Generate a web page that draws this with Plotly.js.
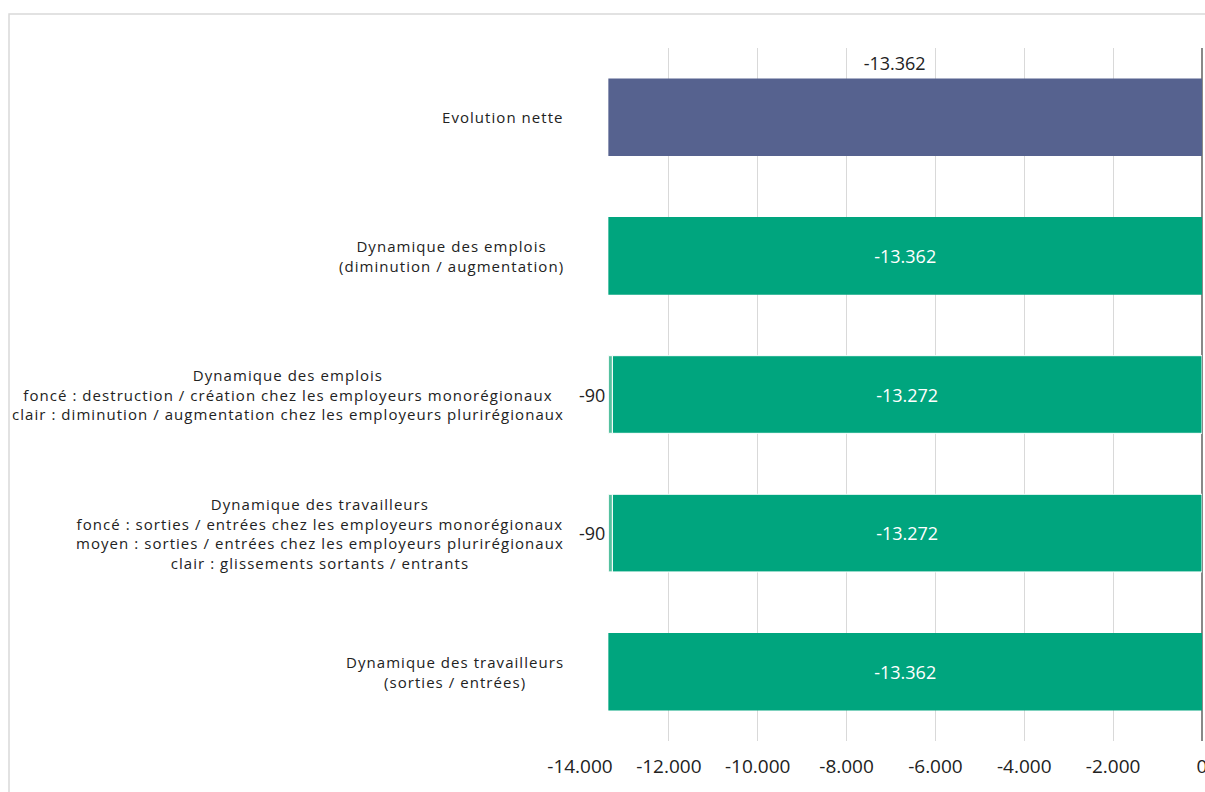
<!DOCTYPE html>
<html>
<head>
<meta charset="utf-8">
<script src="https://cdn.plot.ly/plotly-3.0.1.min.js"></script>
<style>
html,body{margin:0;padding:0;background:#fff;}
#chart{width:1205px;height:792px;}
.annotation-text{letter-spacing:1.05px;}
#chart g.annotation[data-index="5"] .annotation-text{letter-spacing:0;}
</style>
</head>
<body>
<div id="chart"></div>
<script>
const categories = [
  "Evolution nette",
  "Dynamique des emplois<br>(diminution / augmentation)",
  "Dynamique des emplois<br>foncé : destruction / création chez les employeurs monorégionaux<br>clair : diminution / augmentation chez les employeurs plurirégionaux",
  "Dynamique des travailleurs<br>foncé : sorties / entrées chez les employeurs monorégionaux<br>moyen : sorties / entrées chez les employeurs plurirégionaux<br>clair : glissements sortants / entrants",
  "Dynamique des travailleurs<br>(sorties / entrées)"
];
const netValues = [-13362, null, null, null, null];
const totalValues = [null, -13362, null, null, -13362];
const darkValues = [null, null, -13272, -13272, null];
const lightValues = [null, null, -90, -90, null];
const xTickVals = [-14000, -12000, -10000, -8000, -6000, -4000, -2000, 0];
const xTickText = ["-14.000", "-12.000", "-10.000", "-8.000", "-6.000", "-4.000", "-2.000", "0"];

const FONT = "Open Sans";
const fmt = v => (v === null ? "" : (v < 0 ? "-" : "") + Math.abs(v).toString().replace(/\B(?=(\d{3})+(?!\d))/g, "."));
const yIdx = categories.map((c, i) => i);

const common = {type: "bar", orientation: "h", width: 0.56, hoverinfo: "skip", cliponaxis: false};

const traces = [
  Object.assign({}, common, {
    y: yIdx, x: netValues, marker: {color: "#56628f"}, text: netValues.map(() => ""), textposition: "none"
  }),
  Object.assign({}, common, {
    y: yIdx, x: totalValues, marker: {color: "#00a57e"},
    text: totalValues.map(fmt), textposition: "inside", insidetextanchor: "middle",
    textfont: {color: "#ffffff", size: 18, family: FONT}
  }),
  Object.assign({}, common, {
    y: yIdx, x: darkValues, marker: {color: "#00a57e", line: {color: "#ffffff", width: 1}},
    text: darkValues.map(fmt), textposition: "inside", insidetextanchor: "middle",
    textfont: {color: "#ffffff", size: 18, family: FONT}
  }),
  Object.assign({}, common, {
    y: yIdx, x: lightValues, marker: {color: "#55c19f", line: {color: "#ffffff", width: 1}},
    text: lightValues.map(fmt), textposition: "outside", constraintext: "none",
    textfont: {color: "#222222", size: 18, family: FONT}
  })
];

const annotations = categories.map((c, i) => ({
  xref: "paper", yref: "y", x: 0, y: i, xanchor: "right", yanchor: "middle",
  xshift: -14, text: c, showarrow: false, align: "center",
  font: {family: FONT, size: 15, color: "#222222"}
}));
annotations.push({
  xref: "x", yref: "y", x: netValues[0] / 2, y: 0, yshift: 54, xshift: -11,
  text: fmt(netValues[0]), showarrow: false, font: {family: FONT, size: 18, color: "#222222"}
});

const layout = {
  width: 1205, height: 792,
  margin: {l: 580, r: 3, t: 48, b: 51},
  paper_bgcolor: "#ffffff", plot_bgcolor: "#ffffff",
  barmode: "relative", showlegend: false,
  font: {family: FONT, size: 15, color: "#222222"},
  xaxis: {
    range: [-14000, 0], tickvals: xTickVals, ticktext: xTickText,
    showgrid: true, gridcolor: "#d9d9d9", gridwidth: 1,
    zeroline: true, zerolinecolor: "#888888", zerolinewidth: 1.5,
    ticks: "", ticklabelstandoff: 12, showline: false, ticklabeloverflow: "allow",
    tickfont: {family: FONT, size: 19, color: "#222222"}
  },
  yaxis: {
    range: [4.5, -0.5], showticklabels: false, showgrid: false, zeroline: false, ticks: ""
  },
  annotations: annotations,
  shapes: [{
    type: "rect", xref: "paper", yref: "paper", x0: -0.918, x1: 1.2, y0: -0.3, y1: 1.049,
    line: {color: "#d9d9d9", width: 1.5}, fillcolor: "rgba(0,0,0,0)", layer: "below"
  }]
};

Plotly.newPlot("chart", traces, layout, {displayModeBar: false, staticPlot: true});
</script>
</body>
</html>
